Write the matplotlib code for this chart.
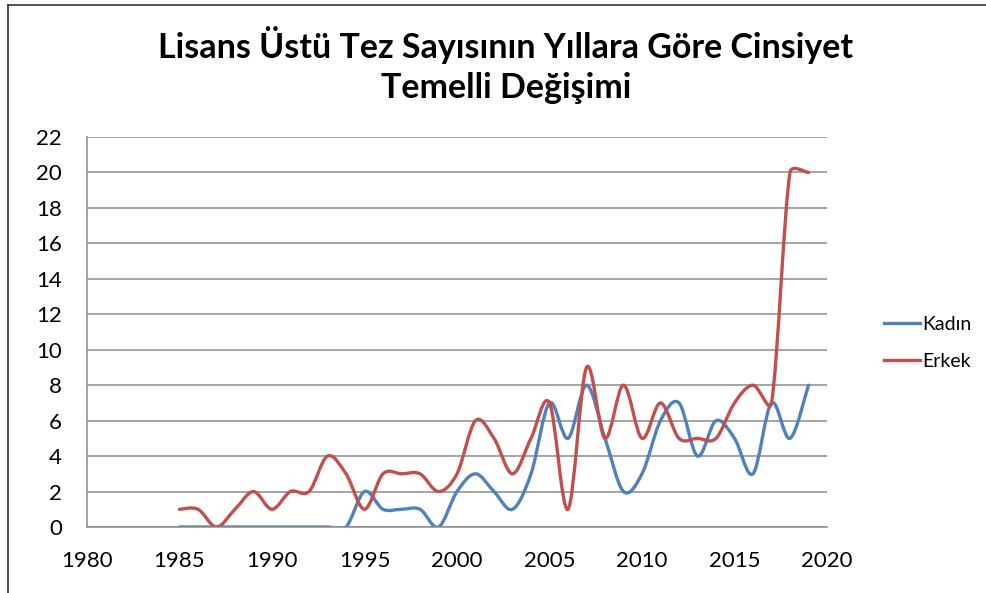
import numpy as np
import matplotlib.pyplot as plt
from matplotlib.path import Path
from matplotlib.patches import PathPatch
from matplotlib.lines import Line2D

years = list(range(1985, 2020))
kadin = [0, 0, 0, 0, 0, 0, 0, 0, 0, 0, 2, 1, 1, 1, 0, 2, 3, 2, 1, 3, 7, 5, 8, 5, 2, 3, 6, 7, 4, 6, 5, 3, 7, 5, 8]
erkek = [1, 1, 0, 1, 2, 1, 2, 2, 4, 3, 1, 3, 3, 3, 2, 3, 6, 5, 3, 5, 7, 1, 9, 5, 8, 5, 7, 5, 5, 5, 7, 8, 7, 20, 20]
series_names = ['Kadın', 'Erkek']
colors = ['#4F81BD', '#C0504D']
x_ticks = [1980, 1985, 1990, 1995, 2000, 2005, 2010, 2015, 2020]
y_ticks = list(range(0, 23, 2))

AX_W, AX_H = 740, 390  # axes size in pixels
XLIM, YLIM = (1980, 2020), (0, 22)


def smooth_path(x, y):
    # Excel-like smoothed line: cubic Bezier through each point,
    # handles limited to half of the neighbouring segment (in screen space)
    sx = AX_W / (XLIM[1] - XLIM[0])
    sy = AX_H / (YLIM[1] - YLIM[0])
    pts = np.column_stack([x, y]).astype(float) * [sx, sy]
    n = len(pts)
    tang = []
    for i in range(n):
        d = (pts[min(i + 1, n - 1)] - pts[max(i - 1, 0)]) / 6
        tang.append(d)
    verts = [pts[0]]
    codes = [Path.MOVETO]
    for i in range(n - 1):
        p1, p2 = pts[i], pts[i + 1]
        seg = np.linalg.norm(p2 - p1)
        d1, d2 = tang[i], tang[i + 1]
        l1, l2 = np.linalg.norm(d1), np.linalg.norm(d2)
        if l1 > seg / 2:
            d1 = d1 * (seg / 2) / l1
        if l2 > seg / 2:
            d2 = d2 * (seg / 2) / l2
        verts += [p1 + d1, p2 - d2, p2]
        codes += [Path.CURVE4] * 3
    verts = np.array(verts) / [sx, sy]
    return Path(verts, codes)


plt.rcParams['font.family'] = ['Lato', 'DejaVu Sans']
fig = plt.figure(figsize=(9.86, 5.93), dpi=100)
ax = fig.add_axes([87 / 986, 66 / 593, AX_W / 986, AX_H / 593])

for vals, color in zip([kadin, erkek], colors):
    ax.add_patch(PathPatch(smooth_path(years, vals), fill=False, edgecolor=color,
                           linewidth=2.4, capstyle='round', joinstyle='round'))

ax.set_xlim(*XLIM)
ax.set_ylim(*YLIM)
ax.set_xticks(x_ticks)
ax.set_yticks(y_ticks)
ax.tick_params(length=0, labelsize=16)
ax.tick_params(axis='x', pad=17)
ax.tick_params(axis='y', pad=18)
ax.grid(axis='y', color='#8c8c8c', linewidth=1.1)
ax.set_axisbelow(True)
for side in ['top', 'right']:
    ax.spines[side].set_visible(False)
for side in ['left', 'bottom']:
    ax.spines[side].set_color('#8c8c8c')
    ax.spines[side].set_linewidth(1.1)

handles = [Line2D([], [], color=c, linewidth=2.4) for c in colors]
fig.legend(handles, series_names, loc='center left', bbox_to_anchor=(866 / 986, 1 - 343 / 593),
           frameon=False, fontsize=14, handlelength=1.9, handletextpad=0.1, labelspacing=1.05)

fig.text(0.513, 1 - 45 / 593, 'Lisans Üstü Tez Sayısının Yıllara Göre Cinsiyet',
         ha='center', va='center', fontsize=24.5, fontweight='bold')
fig.text(0.513, 1 - 88 / 593, 'Temelli Değişimi',
         ha='center', va='center', fontsize=24.5, fontweight='bold')

# chart area border
fig.add_artist(Line2D([8 / 986, 8 / 986], [0, 1 - 5 / 593], color='#333333', linewidth=1.2))
fig.add_artist(Line2D([8 / 986, 1], [1 - 5 / 593, 1 - 5 / 593], color='#333333', linewidth=1.2))

plt.savefig('out.png')
